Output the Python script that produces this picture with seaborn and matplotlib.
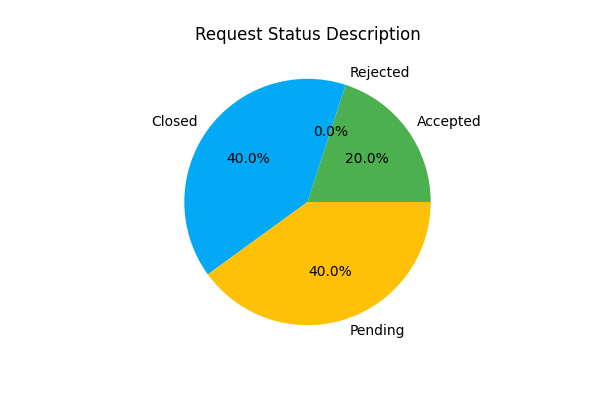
import seaborn as sns
import matplotlib
matplotlib.use('Agg')
import matplotlib.pyplot as plt

# Данные диаграммы
labels = ['Accepted', 'Rejected', 'Closed', 'Pending']
counts = [1, 0, 2, 2]
colors = ['#4CAF50', '#F44336', '#03A9F4', '#FFC107']

palette = sns.color_palette(colors)

fig = plt.figure(figsize=(6, 4), dpi=100)
plt.pie(counts, labels=labels, colors=palette, autopct='%1.1f%%')
plt.title('Request Status Description')
plt.savefig('out.png')
plt.close()
